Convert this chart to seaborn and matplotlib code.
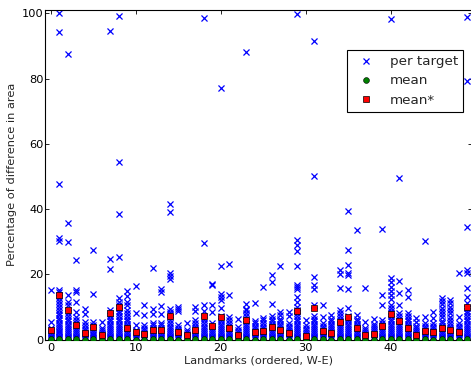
import matplotlib
matplotlib.use("Agg")
import matplotlib.pyplot as plt
import pandas as pd
import seaborn as sns
from matplotlib.lines import Line2D

landmarks = list(range(50))

# per-target differences (%) clustered near zero, one list per landmark
low_values = [
    [0.1, 0.4, 0.8, 1.2, 1.7, 2.2, 2.8, 3.4],
    [0.1, 0.4, 0.8, 1.2, 1.7, 2.2, 2.7, 3.3, 3.9, 4.5, 5.2, 5.9, 6.6, 7.4, 8.2, 9.0, 9.9, 10.8, 11.7, 12.7, 13.6, 14.6],
    [0.1, 0.4, 0.8, 1.2, 1.7, 2.2, 2.8, 3.4, 4.1, 4.8, 5.6, 6.4, 7.3, 8.2],
    [0.1, 0.4, 0.8, 1.2, 1.7, 2.3, 2.9, 3.6, 4.3, 5.1, 6.0, 6.9],
    [0.1, 0.4, 0.8, 1.3, 1.8, 2.4, 3.0, 3.7, 4.4],
    [0.1, 0.4, 0.8, 1.3, 1.8, 2.4, 3.0, 3.7, 4.5, 5.3],
    [0.1, 0.4, 0.8, 1.2, 1.7, 2.3, 2.9],
    [0.1, 0.4, 0.8, 1.2, 1.7, 2.2, 2.8, 3.4, 4.1, 4.8, 5.6, 6.4, 7.3, 8.2, 9.1],
    [0.1, 0.4, 0.8, 1.2, 1.7, 2.2, 2.8, 3.4, 4.1, 4.8, 5.6, 6.4, 7.2, 8.0, 8.9, 9.8, 10.7, 11.6],
    [0.1, 0.4, 0.8, 1.2, 1.7, 2.2, 2.8, 3.4, 4.1, 4.8, 5.6, 6.4, 7.3],
    [0.1, 0.4, 0.8, 1.2, 1.7, 2.2, 2.8],
    [0.1, 0.4, 0.8, 1.2, 1.7, 2.3, 2.9, 3.6, 4.4],
    [0.1, 0.4, 0.8, 1.2, 1.7, 2.3, 2.9, 3.6, 4.4, 5.2],
    [0.1, 0.4, 0.8, 1.2, 1.7, 2.3, 2.9, 3.6, 4.4, 5.2],
    [0.1, 0.4, 0.8, 1.2, 1.7, 2.3, 2.9, 3.6, 4.3, 5.1, 5.9, 6.8, 7.7],
    [0.1, 0.4, 0.8, 1.2, 1.7, 2.3, 2.9, 3.6, 4.4],
    [0.1, 0.4, 0.8, 1.2, 1.7, 2.3, 2.9],
    [0.1, 0.4, 0.8, 1.2, 1.7, 2.3, 2.9, 3.6, 4.3, 5.1, 5.9],
    [0.1, 0.4, 0.8, 1.2, 1.7, 2.3, 2.9, 3.6, 4.3, 5.1, 5.9, 6.7],
    [0.1, 0.4, 0.8, 1.2, 1.7, 2.3, 2.9, 3.6, 4.3, 5.1],
    [0.1, 0.4, 0.8, 1.2, 1.7, 2.2, 2.8, 3.4, 4.1, 4.8, 5.6, 6.4, 7.3],
    [0.1, 0.4, 0.8, 1.2, 1.7, 2.3, 2.9, 3.6, 4.3, 5.1, 5.9],
    [0.1, 0.4, 0.8, 1.2, 1.7, 2.3, 2.9],
    [0.1, 0.4, 0.8, 1.2, 1.7, 2.2, 2.8, 3.4, 4.1, 4.8, 5.6, 6.4, 7.3, 8.2, 9.0],
    [0.1, 0.4, 0.8, 1.2, 1.7, 2.3, 2.9, 3.6, 4.3, 5.0],
    [0.1, 0.4, 0.8, 1.2, 1.7, 2.3, 2.9, 3.6, 4.3, 5.1],
    [0.1, 0.4, 0.8, 1.2, 1.7, 2.2, 2.8, 3.4, 4.1, 4.8, 5.6, 6.4, 7.3],
    [0.1, 0.4, 0.8, 1.2, 1.7, 2.2, 2.8, 3.4, 4.1, 4.8, 5.6, 6.4],
    [0.1, 0.4, 0.8, 1.2, 1.7, 2.3, 2.9, 3.6, 4.3, 5.1],
    [0.1, 0.4, 0.8, 1.2, 1.7, 2.2, 2.8, 3.4, 4.1, 4.8, 5.6, 6.4, 7.3, 8.2, 9.1],
    [0.1, 0.4, 0.8, 1.2, 1.7, 2.3, 2.9, 3.6, 4.4],
    [0.1, 0.4, 0.8, 1.2, 1.7, 2.2, 2.8, 3.4, 4.1, 4.8, 5.6, 6.4, 7.3],
    [0.1, 0.4, 0.8, 1.2, 1.7, 2.3, 2.9, 3.6, 4.3, 5.1],
    [0.1, 0.4, 0.8, 1.2, 1.7, 2.2, 2.8, 3.4, 4.1, 4.8, 5.6, 6.4],
    [0.1, 0.4, 0.8, 1.2, 1.7, 2.2, 2.8, 3.4, 4.1, 4.8, 5.6, 6.4, 7.3],
    [0.1, 0.4, 0.8, 1.2, 1.7, 2.2, 2.8, 3.4, 4.1, 4.8, 5.6, 6.4, 7.3],
    [0.1, 0.4, 0.8, 1.2, 1.7, 2.2, 2.8, 3.4, 4.1, 4.8, 5.6, 6.4],
    [0.1, 0.4, 0.8, 1.2, 1.7, 2.3, 2.9],
    [0.1, 0.4, 0.8, 1.2, 1.7, 2.3, 2.9, 3.6, 4.3],
    [0.1, 0.4, 0.8, 1.2, 1.7, 2.3, 2.9, 3.6, 4.3, 5.1, 5.9],
    [0.1, 0.4, 0.8, 1.2, 1.7, 2.2, 2.8, 3.4, 4.1, 4.8, 5.6, 6.4, 7.2, 8.0, 8.9, 9.8, 10.7],
    [0.1, 0.4, 0.8, 1.2, 1.7, 2.2, 2.8, 3.4, 4.1, 4.8, 5.6, 6.4, 7.3],
    [0.1, 0.4, 0.8, 1.2, 1.7, 2.2, 2.8, 3.4, 4.1, 4.8, 5.6, 6.4, 7.3],
    [0.1, 0.4, 0.8, 1.2, 1.7, 2.3, 2.9, 3.6, 4.3],
    [0.1, 0.4, 0.8, 1.2, 1.7, 2.3, 2.9, 3.6, 4.3, 5.1],
    [0.1, 0.4, 0.8, 1.2, 1.7, 2.3, 2.9, 3.6, 4.3, 5.1],
    [0.1, 0.4, 0.8, 1.2, 1.7, 2.3, 2.9, 3.6, 4.3, 5.0],
    [0.1, 0.4, 0.8, 1.2, 1.7, 2.3, 2.9, 3.6, 4.3, 5.0],
    [0.1, 0.4, 0.8, 1.2, 1.7, 2.3, 2.9, 3.6, 4.3],
    [0.1, 0.4, 0.8, 1.2, 1.7, 2.2, 2.8, 3.4, 4.1, 4.8, 5.6, 6.4, 7.2, 8.0, 8.9, 9.8],
]

# larger per-target differences (%), one list per landmark
high_values = [
    [5.4, 15.1],
    [15.1, 30.2, 31.0, 47.7, 94.2, 100.0],
    [10.6, 11.6, 13.6, 30.0, 35.6, 87.5],
    [8.6, 11.6, 14.7, 15.1, 24.5],
    [5.5, 7.7, 9.5],
    [14.1, 27.4],
    [3.6, 5.5],
    [21.6, 24.8, 94.6],
    [12.7, 25.3, 38.5, 54.4, 99.1],
    [8.2, 9.2, 10.6, 11.6, 13.4, 14.8],
    [4.6, 8.0, 16.5],
    [7.5, 10.5],
    [7.7, 9.4, 22.0],
    [7.7, 10.3, 14.6, 15.6],
    [8.6, 9.4, 18.7, 19.5, 20.4, 39.2, 41.7],
    [8.7, 9.4, 10.1],
    [5.2],
    [8.7, 10.0],
    [8.7, 10.7, 29.5, 98.5],
    [8.4, 10.7, 16.6, 17.0],
    [9.6, 12.2, 13.2, 14.1, 22.4, 77.1],
    [7.0, 13.7, 23.2],
    [4.0, 6.2],
    [9.5, 10.9, 88.2],
    [5.6, 11.1],
    [6.0, 6.7, 16.0],
    [10.9, 17.6, 19.8],
    [7.6, 8.6, 22.6],
    [7.2, 8.4],
    [10.0, 11.6, 13.0, 15.4, 16.0, 16.8, 22.4, 27.3, 29.0, 30.4, 99.7],
    [6.0],
    [10.7, 15.6, 16.7, 19.3, 50.2, 91.5],
    [7.0, 10.7],
    [7.6],
    [8.2, 9.1, 15.9, 20.0, 21.3],
    [9.8, 15.6, 19.8, 20.3, 22.9, 27.4, 39.4],
    [7.5, 33.5],
    [3.6, 5.5, 15.9],
    [4.9, 6.2],
    [10.7, 13.8, 34.0],
    [12.4, 13.6, 14.9, 16.2, 17.7, 18.8, 98.2],
    [8.3, 10.6, 14.2, 18.1, 49.6],
    [8.0, 13.1, 15.2],
    [5.3, 6.7],
    [7.0, 30.1],
    [6.5, 8.6],
    [5.8, 6.8, 7.8, 8.8, 9.8, 10.8, 11.8, 12.8],
    [6.0, 7.0, 8.0, 9.0, 10.1, 11.1, 12.1],
    [5.0, 7.0, 20.3],
    [11.1, 13.1, 15.9, 20.5, 21.3, 34.6, 79.2, 98.9],
]

mean_values = [
    0.03, 0.14, 0.09, 0.05, 0.02, 0.04, 0.01, 0.08, 0.10, 0.03,
    0.02, 0.02, 0.03, 0.03, 0.07, 0.02, 0.01, 0.03, 0.07, 0.04,
    0.07, 0.04, 0.01, 0.06, 0.02, 0.03, 0.04, 0.03, 0.02, 0.09,
    0.01, 0.10, 0.03, 0.02, 0.05, 0.07, 0.04, 0.01, 0.02, 0.04,
    0.08, 0.06, 0.03, 0.01, 0.03, 0.02, 0.04, 0.03, 0.02, 0.10,
]

mean_star_values = [
    2.8, 13.8, 9.2, 4.6, 1.9, 3.9, 1.3, 8.3, 10.0, 3.4,
    2.3, 1.6, 2.8, 2.9, 7.3, 2.2, 1.4, 2.8, 7.2, 4.3,
    6.8, 3.5, 1.3, 6.0, 2.4, 2.6, 3.8, 3.0, 2.0, 8.8,
    1.2, 9.6, 2.6, 2.1, 5.3, 6.9, 3.7, 1.4, 1.6, 4.2,
    7.9, 5.7, 3.4, 1.3, 2.6, 2.4, 3.5, 2.8, 2.4, 10.0,
]

rows = []
for lm, lo, hi in zip(landmarks, low_values, high_values):
    for v in lo + hi:
        rows.append((lm, v))
targets = pd.DataFrame(rows, columns=["landmark", "diff"])
means = pd.DataFrame({"landmark": landmarks, "mean": mean_values, "mean_star": mean_star_values})

sns.set_style("ticks", {"xtick.direction": "in", "ytick.direction": "in"})
plt.rcParams["font.family"] = ["DejaVu Sans"]
plt.rcParams["xtick.top"] = True
plt.rcParams["ytick.right"] = True

fig = plt.figure(figsize=(4.71, 3.69), dpi=100)
ax = fig.add_axes([0.0966, 0.0797, 0.9045, 0.8932])

sns.scatterplot(data=targets, x="landmark", y="diff", marker="x", color="blue",
                s=19, linewidth=0.9, ax=ax, legend=False, zorder=2)
sns.scatterplot(data=means, x="landmark", y="mean", marker="o", color="green",
                edgecolor="black", linewidth=0.4, s=18, ax=ax, legend=False, zorder=3)
sns.scatterplot(data=means, x="landmark", y="mean_star", marker="s", color="red",
                edgecolor="black", linewidth=0.5, s=19, ax=ax, legend=False, zorder=4)

ax.set_xlim(-0.6, 49.5)
ax.set_ylim(0, 101)
ax.set_xticks([0, 10, 20, 30, 40])
ax.set_yticks([0, 20, 40, 60, 80, 100])
ax.tick_params(axis="both", which="major", length=3.2, width=0.6, labelsize=8.2,
               colors="black", top=True, right=True, direction="in")
ax.tick_params(axis="x", pad=2.5)
ax.tick_params(axis="y", pad=1.5)
for sp in ax.spines.values():
    sp.set_linewidth(0.8)
    sp.set_color("black")

ax.set_xlabel("Landmarks (ordered, W-E)", fontsize=8.2, labelpad=1.5)
ax.set_ylabel("Percentage of difference in area", fontsize=8.2, labelpad=3)

handles = [
    Line2D([], [], marker="x", color="blue", linestyle="none", markersize=4.2, markeredgewidth=0.9),
    Line2D([], [], marker="o", markerfacecolor="green", markeredgecolor="black",
           linestyle="none", markersize=4.2, markeredgewidth=0.4),
    Line2D([], [], marker="s", markerfacecolor="red", markeredgecolor="black",
           linestyle="none", markersize=4.2, markeredgewidth=0.5),
]
leg = ax.legend(handles, ["per target", "mean", "mean*"], loc="upper left",
                bbox_to_anchor=(0.7361, 0.8645), bbox_transform=fig.transFigure,
                borderaxespad=0, fontsize=9.7, frameon=True, fancybox=False,
                framealpha=1, edgecolor="black", borderpad=0.4, labelspacing=0.45,
                handlelength=2.0, handletextpad=0.8, numpoints=1)
leg.get_frame().set_linewidth(0.8)

fig.savefig("out.png", dpi=100)
